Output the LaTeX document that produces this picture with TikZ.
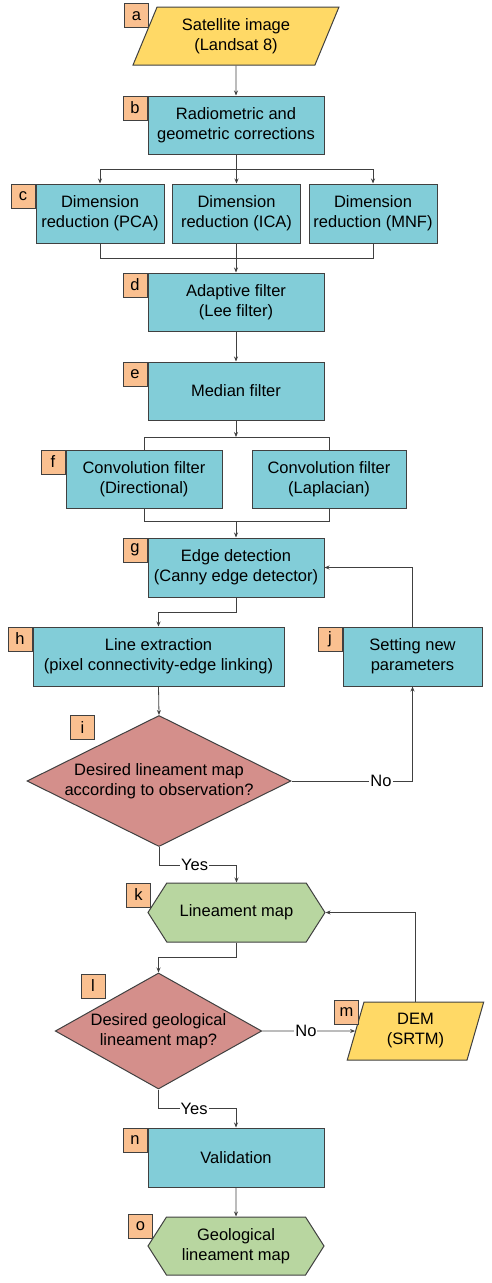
\documentclass[tikz,border=0pt]{standalone}
\usepackage{fontspec}
\setmainfont{Liberation Sans}
\usetikzlibrary{calc,arrows.meta,shapes.geometric,shapes.symbols}
\definecolor{procfill}{HTML}{82CDD8}
\definecolor{iofill}{HTML}{FFD966}
\definecolor{decfill}{HTML}{D48F8B}
\definecolor{mapfill}{HTML}{B8D6A0}
\definecolor{tagfill}{HTML}{FAC090}
\definecolor{edge}{HTML}{404040}
\tikzset{
  procbox/.style={draw=edge, line width=1pt, fill=procfill, align=center, inner sep=0pt},
  iobox/.style={draw=edge, line width=1pt, fill=iofill, align=center, inner sep=0pt,
    trapezium, trapezium stretches=true, minimum height=58},
  decbox/.style={draw=edge, line width=1pt, fill=decfill, align=center, inner sep=0pt,
    diamond, aspect=2},
  mapbox/.style={draw=edge, line width=1pt, fill=mapfill, align=center, inner sep=0pt,
    signal, signal to=east and west, signal pointer angle=115},
  tagbox/.style={draw=edge, line width=1pt, fill=tagfill, inner sep=0pt,
    minimum width=24, minimum height=24, anchor=north east},
  arr/.style={draw=edge, line width=0.8pt, -{Stealth[length=5pt,width=4pt]}},
  wire/.style={draw=edge, line width=0.8pt},
  yn/.style={fill=white, inner sep=1pt}
}

\begin{document}
\begin{tikzpicture}[x=1pt, y=-1pt, font=\fontsize{16.5}{20}\selectfont]
			%%%%% START %%%%%
			\useasboundingbox (0,0) rectangle (492,1283);
			
			\node[iobox, trapezium left angle=65, trapezium right angle=115, minimum width=206] (sat) at (236, 36) {Satellite image\\(Landsat 8)};
			\node[procbox, minimum width=176, minimum height=58] (corr) at (236, 125) {Radiometric and\\geometric corrections};
			
			\node[procbox, minimum width=128, minimum height=59] (pca) at (100, 213.5) {Dimension\\reduction (PCA)};
			\node[procbox, minimum width=128, minimum height=59] (ica) at (236.5, 213.5) {Dimension\\reduction (ICA)};
			\node[procbox, minimum width=128, minimum height=59] (mnf) at (373, 213.5) {Dimension\\reduction (MNF)};
			
			\node[procbox, minimum width=176, minimum height=58] (lee) at (236, 302) {Adaptive filter\\(Lee filter)};
			\node[procbox, minimum width=176, minimum height=58] (median) at (236, 391) {Median filter};
			
			\node[procbox, minimum width=156, minimum height=58] (direc) at (144, 479) {Convolution filter\\(Directional)};
			\node[procbox, minimum width=154, minimum height=58] (lapl) at (329, 479) {Convolution filter\\(Laplacian)};
			
			\node[procbox, minimum width=176, minimum height=59] (canny) at (236, 567.5) {Edge detection\\(Canny edge detector)};
			\node[procbox, minimum width=251, minimum height=59] (linex) at (158.5, 656.5) {Line extraction\\(pixel connectivity-edge linking)};
			\node[procbox, minimum width=139, minimum height=59] (param) at (412.5, 656.5) {Setting new\\parameters};
			
			\node[decbox, minimum width=264, minimum height=131] (obs) at (159, 781) {Desired lineament map\\according to observation?};
			\node[mapbox, minimum width=177, minimum height=59] (linmap) at (236.5, 912.5) {Lineament map};
			\node[decbox, minimum width=205, minimum height=116] (geo) at (158.5, 1031) {Desired geological\\lineament map?};
			\node[iobox, trapezium left angle=75, trapezium right angle=105, minimum width=137] (dem) at (415.5, 1031) {DEM\\(SRTM)};
			
			\node[procbox, minimum width=176, minimum height=59] (valid) at (236, 1157.5) {Validation};
			\node[mapbox, minimum width=176, minimum height=58] (geomap) at (236, 1246) {Geological\\lineament map};
			
			% letters
			\node[tagbox] (ta) at ($(sat.north)+(-87,-3)$) {a};
			\node[tagbox] (tb) at (corr.north west) {b};
			\node[tagbox] (tc) at (pca.north west) {c};
			\node[tagbox] (td) at (lee.north west) {d};
			\node[tagbox] (te) at (median.north west) {e};
			\node[tagbox] (tf) at (direc.north west) {f};
			\node[tagbox] (tg) at (canny.north west) {g};
			\node[tagbox] (th) at (linex.north west) {h};
			\node[tagbox] (ti) at ($(obs.north)+(-64,0)$) {i};
			\node[tagbox] (tj) at (param.north west) {j};
			\node[tagbox] (tk) at ($(linmap.north)+(-85.5,0)$) {k};
			\node[tagbox] (tl) at ($(geo.north)+(-53,1)$) {l};
			\node[tagbox] (tm) at ($(dem.north)+(-56.5,-2)$) {m};
			\node[tagbox] (tn) at (valid.north west) {n};
			\node[tagbox] (to) at ($(geomap.north)+(-83,-3)$) {o};
			
			% connectors
			\coordinate (split1) at (236, 169);
			\coordinate (merge1) at (236, 258);
			\coordinate (split2) at (236, 437);
			\coordinate (merge2) at (236, 521);
			
			\draw[arr] (sat) -- (corr);
			\draw[wire] (corr) -- (split1);
			\draw[arr] (split1) -| (pca);
			\draw[arr] (split1) -| (ica);
			\draw[arr] (split1) -| (mnf);
			\draw[wire] (pca) |- (merge1);
			\draw[wire] (mnf) |- (merge1);
			\draw[wire] (ica) |- (merge1);
			\draw[arr] (merge1) -- (lee);
			\draw[arr] (lee) -- (median);
			\draw[arr] (median) -- (split2);
			\draw[wire] (split2) -| (direc);
			\draw[wire] (split2) -| (lapl);
			\draw[wire] (direc) |- (merge2);
			\draw[wire] (lapl) |- (merge2);
			\draw[arr] (merge2) -- (canny);
			\draw[arr] (canny.south) -- ++(0, 15) -| (linex.north);
			\draw[arr] (linex.south) -- (obs.north);
			\draw[arr] (obs.east) -| node[yn, pos=0.37] {No} (param.south);
			\draw[arr] (param.north) |- (canny.east);
			\draw[arr] (obs.south) -- ++(0, 18) -| node[yn, pos=0.23] {Yes} (linmap.north);
			\draw[arr] (linmap.south) -- ++(0, 15) -| (geo.north);
			\draw[arr] (geo) -- node[yn, pos=0.47] {No} (dem);
			\draw[arr] (dem.north) |- (linmap.east);
			\draw[arr] (geo.south) -- ++(0, 19) -| node[yn, pos=0.23] {Yes} (valid.north);
			\draw[arr] (valid) -- (geomap);
			
			%%%%% END %%%%%
\end{tikzpicture}
\end{document}
